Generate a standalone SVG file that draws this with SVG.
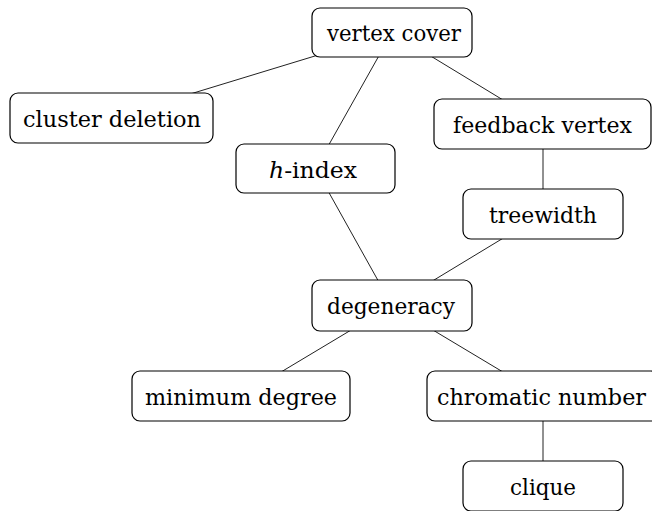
<svg xmlns="http://www.w3.org/2000/svg" width="652" height="511" viewBox="0 0 652 511">
<style>
.n rect{fill:#fff;stroke:#000;stroke-width:1.2}
.n text{font-family:'DejaVu Serif','Noto Serif','Liberation Serif','Times New Roman',Times,serif;font-size:23px;fill:#000;text-anchor:middle}
.e line{stroke:#222;stroke-width:1}
</style>
<rect width="652" height="511" fill="#fff"/>
<g id="edges" class="e">
<line x1="392" y1="32.5" x2="111.5" y2="118"/>
<line x1="392" y1="32.5" x2="315.5" y2="168.5"/>
<line x1="392" y1="32.5" x2="542.5" y2="124"/>
<line x1="543" y1="124" x2="543" y2="214"/>
<line x1="315.5" y1="168.5" x2="392" y2="305.5"/>
<line x1="543" y1="214" x2="392" y2="305.5"/>
<line x1="392" y1="305.5" x2="241" y2="396"/>
<line x1="392" y1="305.5" x2="543" y2="396"/>
<line x1="543" y1="396" x2="543" y2="486"/>
</g>
<g id="vertex-cover" class="n"><rect x="312" y="8" width="160" height="49" rx="8"/><text x="394" y="41" textLength="134" lengthAdjust="spacingAndGlyphs">vertex cover</text></g>
<g id="cluster-deletion" class="n"><rect x="10" y="93" width="203" height="50" rx="8"/><text x="112" y="127" textLength="178" lengthAdjust="spacingAndGlyphs">cluster deletion</text></g>
<g id="feedback-vertex" class="n"><rect x="434" y="99" width="217" height="50" rx="8"/><text x="542.5" y="133" textLength="179" lengthAdjust="spacingAndGlyphs">feedback vertex</text></g>
<g id="h-index" class="n"><rect x="236" y="144" width="159" height="49" rx="8"/><text x="313" y="178" textLength="88" lengthAdjust="spacingAndGlyphs"><tspan font-style="italic">h</tspan>-index</text></g>
<g id="treewidth" class="n"><rect x="463" y="189" width="160" height="50" rx="8"/><text x="543" y="223" textLength="108" lengthAdjust="spacingAndGlyphs">treewidth</text></g>
<g id="degeneracy" class="n"><rect x="312" y="280" width="160" height="51" rx="8"/><text x="391" y="314" textLength="128" lengthAdjust="spacingAndGlyphs">degeneracy</text></g>
<g id="minimum-degree" class="n"><rect x="132" y="371" width="218" height="50" rx="8"/><text x="241" y="405" textLength="192" lengthAdjust="spacingAndGlyphs">minimum degree</text></g>
<g id="chromatic-number" class="n"><rect x="427" y="371" width="232" height="50" rx="8"/><text x="541.5" y="405" textLength="209" lengthAdjust="spacingAndGlyphs">chromatic number</text></g>
<g id="clique" class="n"><rect x="463" y="461" width="160" height="50" rx="8"/><text x="543" y="495" textLength="66" lengthAdjust="spacingAndGlyphs">clique</text></g>
</svg>
